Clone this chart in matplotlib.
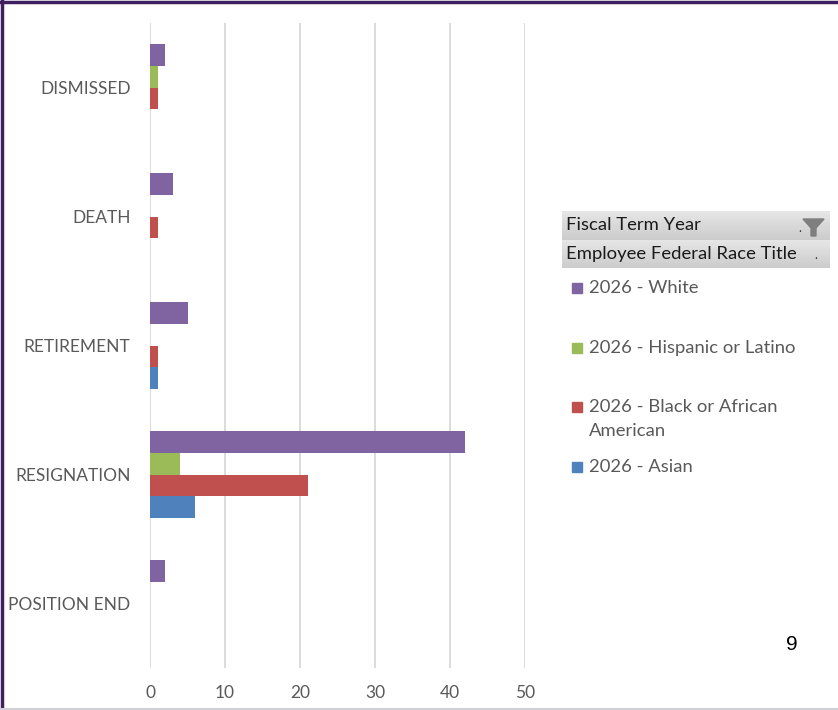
import numpy as np
import matplotlib
matplotlib.use("Agg")
import matplotlib.pyplot as plt
from matplotlib.patches import Rectangle, Polygon
from matplotlib.lines import Line2D

plt.rcParams['font.family'] = ['Lato', 'DejaVu Sans']

# separation reasons, top to bottom
reasons = ['DISMISSED', 'DEATH', 'RETIREMENT', 'RESIGNATION', 'POSITION END']
series = ['2026 - White', '2026 - Hispanic or Latino',
          '2026 - Black or African\nAmerican', '2026 - Asian']
white = [2, 3, 5, 42, 2]
hispanic = [1, 0, 0, 4, 0]
black = [1, 1, 1, 21, 0]
asian = [0, 0, 1, 6, 0]
colors = ['#8064a2', '#9bbb59', '#c0504d', '#4f81bd']
xticks = [0, 10, 20, 30, 40, 50]

W, H = 838, 710
fig = plt.figure(figsize=(W / 100, H / 100), dpi=100)

def fx(px):
    return px / W

def fy(py):
    return 1 - py / H

ax = fig.add_axes([fx(150), fy(668), fx(525) - fx(150), fy(23) - fy(668)])

pos = np.arange(len(reasons))
bh = 0.17
for i, vals in enumerate([white, hispanic, black, asian]):
    off = (i - 1.5) * bh
    ax.barh(pos + off, vals, height=bh, color=colors[i], edgecolor='none')

ax.set_xlim(0, 50)
ax.set_ylim(len(reasons) - 0.5, -0.5)
ax.set_xticks(xticks)
ax.set_yticks(pos)
ax.set_yticklabels(reasons)
ax.tick_params(axis='both', length=0, labelsize=12.5, colors='#595959')
ax.tick_params(axis='x', pad=12)
ax.tick_params(axis='y', pad=14)
ax.grid(axis='x', color='#d9d9d9', linewidth=1.3)
ax.set_axisbelow(True)
for s in ax.spines.values():
    s.set_visible(False)

# legend header bars with soft gradient
for top, bot, txt, icon in [(211, 240, 'Fiscal Term Year', True),
                            (240, 268, 'Employee Federal Race Title', False)]:
    hax = fig.add_axes([fx(562), fy(bot), fx(830) - fx(562), fy(top) - fy(bot)])
    grad = np.linspace(0.90, 0.80, 20).reshape(-1, 1)
    hax.imshow(grad, cmap='gray', vmin=0, vmax=1, aspect='auto',
               extent=[0, 1, 0, 1])
    hax.set_axis_off()
    fig.text(fx(566), fy((top + bot) / 2), txt, fontsize=13.3, color='#1a1a1a',
             va='center', ha='left')
    if icon:
        fig.text(fx(800), fy((top + bot) / 2 + 2), '.', fontsize=9, color='#333333',
                 va='center', ha='center')
        funnel = Polygon([[fx(803), fy(219)], [fx(824), fy(219)], [fx(816), fy(228)],
                          [fx(816), fy(236)], [fx(811), fy(236)], [fx(811), fy(228)]],
                         closed=True, transform=fig.transFigure, color='#7f7f7f')
        fig.patches.append(funnel)
    else:
        fig.text(fx(816), fy((top + bot) / 2 + 1), '.', fontsize=9, color='#333333',
                 va='center', ha='center')

# legend entries
leg_y = [288, 348, 407, 467]
for name, c, yy in zip(series, colors, leg_y):
    fig.patches.append(Rectangle((fx(572), fy(yy + 5)), fx(10), fy(yy - 5) - fy(yy + 5),
                                 transform=fig.transFigure, color=c))
    if '\n' in name:
        fig.text(fx(589), fy(399), name, fontsize=13.3, color='#595959',
                 va='top', ha='left', linespacing=1.65)
    else:
        fig.text(fx(589), fy(yy), name, fontsize=13.3, color='#595959',
                 va='center', ha='left')

# page number
fig.text(fx(792), fy(644), '9', fontsize=15, color='black', family='Liberation Sans',
         ha='center', va='center')

# slide frame
fig.add_artist(Line2D([fx(1.5), fx(1.5)], [0, 1], color='#3f1f5f', linewidth=2.5,
                      transform=fig.transFigure))
fig.add_artist(Line2D([0, 1], [fy(1.5), fy(1.5)], color='#3f1f5f', linewidth=2.5,
                      transform=fig.transFigure))
fig.add_artist(Line2D([0, 1], [fy(708.5), fy(708.5)], color='#d0d0d8', linewidth=1.5,
                      transform=fig.transFigure))

fig.savefig('out.png', dpi=100)
